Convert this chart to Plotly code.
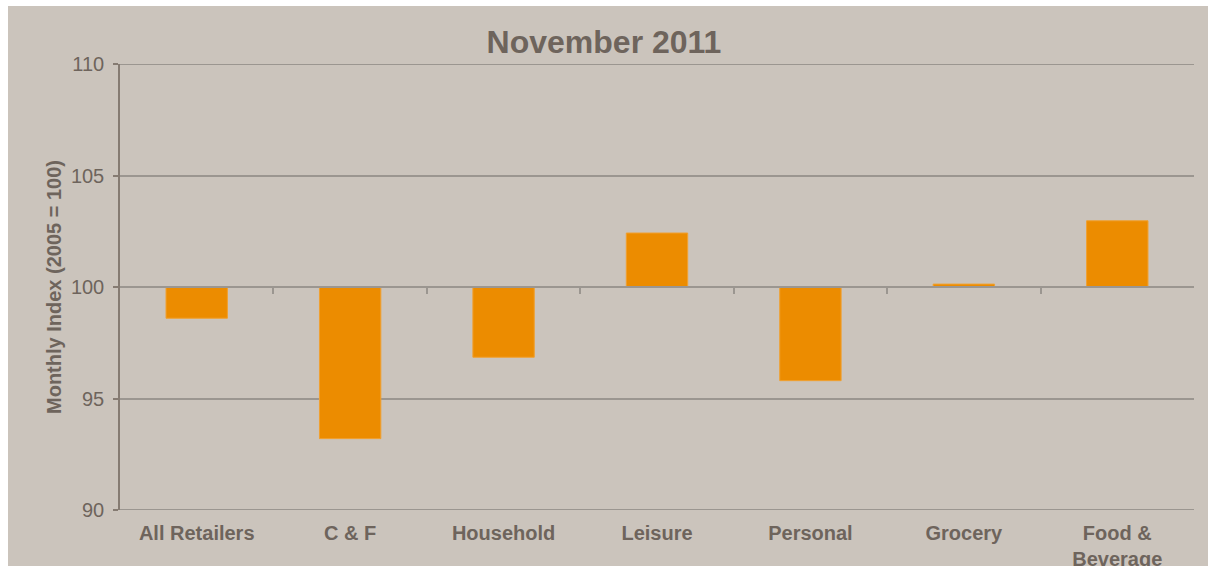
import plotly.graph_objects as go

categories = ["All Retailers", "C & F", "Household", "Leisure", "Personal", "Grocery", "Food &<br>Beverage"]
values = [98.6, 93.2, 96.85, 102.42, 95.8, 100.13, 102.97]
baseline = 100
title_text = "November 2011"
y_title = "Monthly Index (2005 = 100)"
y_ticks = [90, 95, 100, 105, 110]

BG = "#CBC4BC"
TXT = "#6E645C"
GRID = "#9B9690"
AXIS = "#857B72"
ORANGE = "#EC8C00"
FONT = "Liberation Sans, Arial, sans-serif"

W, H = 1208, 566
L, R, T, B = 120, 14, 64, 56
pw, ph = W - L - R, H - T - B

fig = go.Figure()
fig.add_trace(go.Bar(
    x=list(range(len(categories))),
    y=[v - baseline for v in values],
    base=baseline,
    width=0.4,
    marker=dict(color=ORANGE, line=dict(color="#F0A030", width=1)),
    showlegend=False,
))
# invisible trace for the baseline axis
fig.add_trace(go.Scatter(x=[-0.5, 6.5], y=[baseline, baseline], xaxis="x2", mode="lines",
                         line=dict(width=0), hoverinfo="skip", showlegend=False))

edge_lines = [dict(type="line", xref="paper", yref="y", x0=0, x1=1, y0=v, y1=v,
                   line=dict(color=GRID, width=2), layer="below")
              for v in (y_ticks[0], y_ticks[-1])]

fig.update_layout(
    width=W, height=H,
    margin=dict(l=L, r=R, t=T, b=B, pad=0, autoexpand=False),
    paper_bgcolor="white",
    plot_bgcolor=BG,
    font=dict(family=FONT, color=TXT, size=20),
    title=dict(text=title_text, x=0.5, xanchor="center", y=1 - 42 / H, yanchor="middle",
               font=dict(size=32, weight="bold", color=TXT, family=FONT)),
    xaxis=dict(
        range=[-0.5, 6.5],
        tickvals=list(range(len(categories))),
        ticktext=categories,
        showline=False, showgrid=False, zeroline=False,
        ticks="", ticklabelstandoff=9, automargin=False,
        tickfont=dict(size=20, weight="bold", color=TXT),
    ),
    xaxis2=dict(
        overlaying="x", anchor="free", position=0.5,
        range=[-0.5, 6.5],
        tickvals=[i + 0.5 for i in range(len(categories) - 1)],
        showticklabels=False, ticks="outside", ticklen=6, tickwidth=2, tickcolor=GRID,
        showline=True, linecolor=GRID, linewidth=2,
        showgrid=False, zeroline=False, automargin=False,
    ),
    yaxis=dict(
        range=[90, 110],
        tickvals=y_ticks,
        showgrid=True, gridcolor=GRID, gridwidth=2,
        showline=True, linecolor=AXIS, linewidth=1.5,
        ticks="outside", ticklen=5, tickcolor=AXIS, tickwidth=1.5,
        ticklabelstandoff=5, automargin=False,
        zeroline=False,
        tickfont=dict(size=20, color=TXT),
        title=dict(text=y_title, font=dict(size=20, weight="bold", color=TXT), standoff=4),
    ),
    shapes=[dict(
        type="rect", xref="paper", yref="paper", layer="below",
        x0=(8 - L) / pw, x1=(W - L) / pw,
        y0=-(B) / ph, y1=(H - 6 - B) / ph,
        fillcolor=BG, line=dict(width=0),
    )] + edge_lines,
)

fig.write_html("out.html", config={"displayModeBar": False},
               post_script="document.body.style.margin='0';document.body.style.overflow='hidden';")
